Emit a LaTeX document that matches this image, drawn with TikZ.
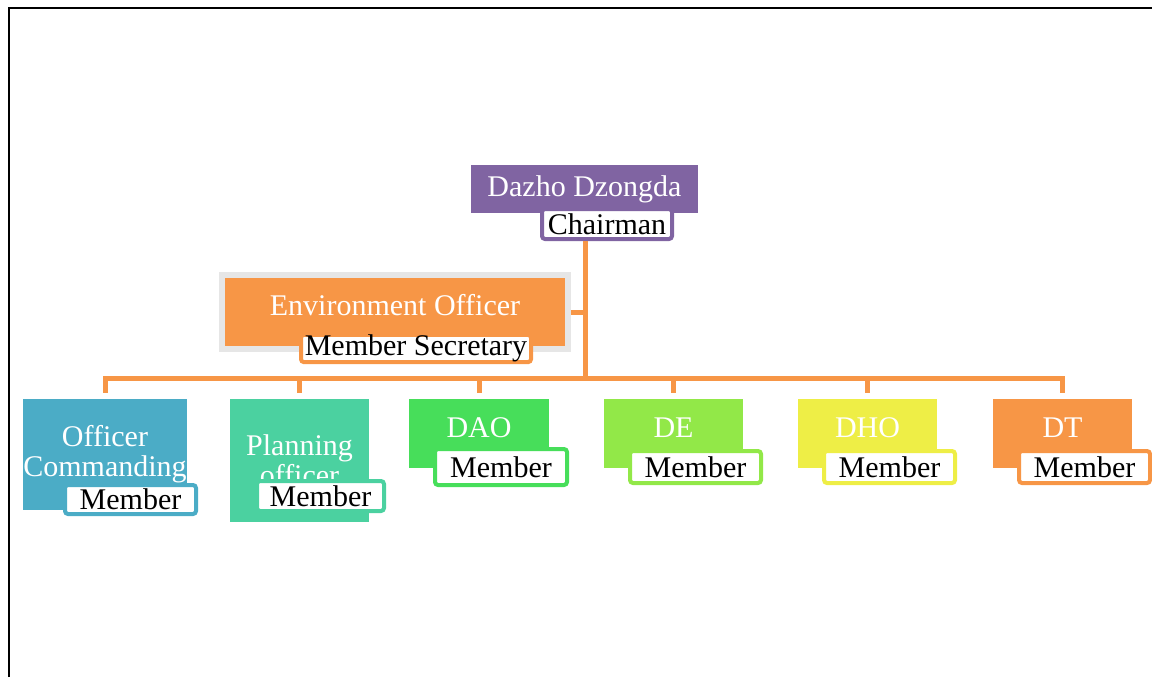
\documentclass[tikz,border=0pt]{standalone}
\usepackage{fontspec}
\setmainfont{Liberation Serif}
\usepackage{xcolor}
\usepackage{tikz}
\usetikzlibrary{positioning}
\definecolor{chairpurple}{HTML}{8064A2}
\definecolor{envorange}{HTML}{F79646}
\definecolor{halogray}{HTML}{E6E6E6}
\definecolor{ocblue}{HTML}{4BACC6}
\definecolor{planteal}{HTML}{4BD1A0}
\definecolor{daogreen}{HTML}{47DE5A}
\definecolor{delime}{HTML}{92E848}
\definecolor{dhoyellow}{HTML}{EEEE46}

\begin{document}
\begin{tikzpicture}[
  x=0.5pt, y=-0.5pt,
  officebox/.style={fill=#1, text=white, inner sep=0pt, align=center,
                    font=\fontsize{15}{15}\selectfont},
  rolebox/.style={draw=#1, fill=white, line width=2pt, rounded corners=1.5pt,
                  inner sep=0pt, minimum width=65.5pt, minimum height=16pt,
                  font=\fontsize{15}{15}\selectfont},
  link/.style={draw=envorange, line width=2.5pt}
]
\useasboundingbox (0,0) rectangle (1152,677);
\draw[line width=1pt] (9,677) -- (9,8) -- (1152,8);

% head of the committee
\node[officebox=chairpurple, minimum width=113.5pt, minimum height=24pt] (dazho) at (584.5,189) {Dazho Dzongda};
\node[rolebox=chairpurple, minimum width=65pt, minimum height=15pt] (chair) at (607,224) {Chairman};

% secretary
\node[officebox=envorange, draw=halogray, line width=3pt, minimum width=173pt, minimum height=37pt, text depth=7pt] (env) at (395,312) {Environment Officer};
\node[rolebox=envorange, minimum width=115pt, minimum height=13.5pt] (sec) at (416,348.5) {Member Secretary};

% members
\node[officebox=ocblue, minimum width=82pt, minimum height=55.5pt] (oc) at (105,454.5) {Officer\\Commanding};
\node[rolebox=ocblue, minimum height=14.5pt] (ocm) at (130.5,499.5) {Member};
\node[officebox=planteal, minimum width=69.5pt, minimum height=61.5pt] (plan) at (299.5,460.5) {Planning\\officer};
\node[rolebox=planteal, minimum width=63.5pt, minimum height=15pt] (planm) at (320.5,496) {Member};
\node[officebox=daogreen, minimum width=70pt, minimum height=34.5pt, text depth=6pt] (dao) at (479,433.5) {DAO};
\node[rolebox=daogreen, minimum width=66pt, minimum height=18pt] (daom) at (501,467) {Member};
\node[officebox=delime, minimum width=69.5pt, minimum height=34.5pt, text depth=6pt] (de) at (673.5,433.5) {DE};
\node[rolebox=delime] (dem) at (695.5,467) {Member};
\node[officebox=dhoyellow, minimum width=69.5pt, minimum height=34.5pt, text depth=6pt] (dho) at (867.5,433.5) {DHO};
\node[rolebox=dhoyellow] (dhom) at (889.5,467) {Member};
\node[officebox=envorange, minimum width=69.5pt, minimum height=34.5pt, text depth=6pt] (dt) at (1062.5,433.5) {DT};
\node[rolebox=envorange] (dtm) at (1084.5,467) {Member};

\coordinate (hub) at (585,378);
\draw[link] (hub |- chair.south) -- (hub);
\draw[link] (env.east) -- (env.east -| hub);
\foreach \n in {oc,plan,dao,de,dho,dt}
  \draw[link, shorten <=3pt] (\n.north) |- (hub);
\end{tikzpicture}
\end{document}
